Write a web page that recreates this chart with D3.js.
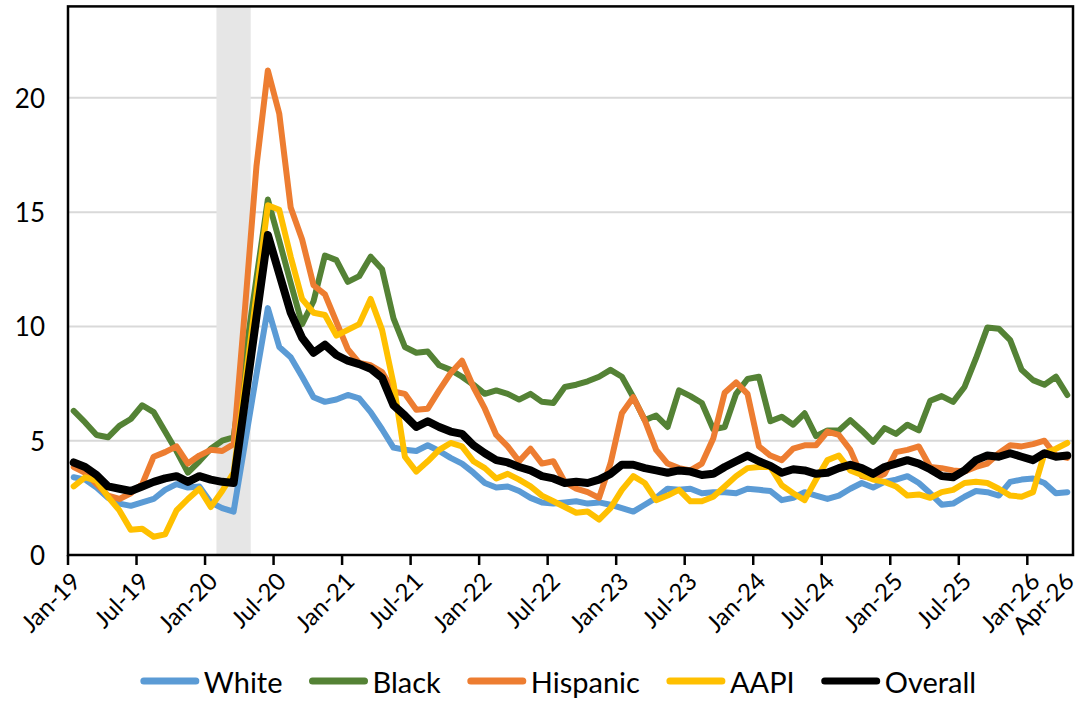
<!DOCTYPE html>
<html>
<head>
<meta charset="utf-8">
<script src="https://cdn.jsdelivr.net/npm/d3@7"></script>
<style>
  body { margin: 0; background: #fff; }
  svg { display: block; }
  text { font-family: Lato, "Open Sans", sans-serif; fill: #000; }
</style>
</head>
<body>
<svg id="chart" width="1078" height="724"></svg>
<script>
// Monthly unemployment rate (%) by group, Jan 2019 – Apr 2026
const monthStart = new Date(2019, 0, 1);
const monthEnd = new Date(2026, 4, 1); // exclusive
const months = d3.timeMonth.range(monthStart, monthEnd);

const white = [3.4,3.3,2.95,2.5,2.25,2.15,2.3,2.45,2.85,3.1,2.95,3.0,2.3,2.05,1.9,4.9,7.9,10.8,
  9.1,8.65,7.8,6.9,6.7,6.8,7.0,6.85,6.25,5.5,4.7,4.6,4.55,4.8,4.55,4.25,4.0,3.6,
  3.15,2.95,3.0,2.8,2.5,2.3,2.25,2.3,2.35,2.25,2.3,2.2,2.05,1.9,2.2,2.5,2.9,2.85,
  2.9,2.7,2.75,2.75,2.7,2.9,2.85,2.8,2.4,2.5,2.75,2.6,2.45,2.6,2.9,3.15,2.95,3.2,
  3.3,3.45,3.15,2.7,2.2,2.25,2.55,2.8,2.75,2.6,3.2,3.3,3.35,3.15,2.7,2.75];

const black = [6.3,5.8,5.25,5.15,5.65,5.95,6.55,6.25,5.4,4.55,3.6,4.1,4.65,5.0,5.15,8.6,12.1,15.55,
  13.75,11.9,10.1,11.1,13.1,12.9,11.95,12.2,13.05,12.5,10.35,9.1,8.85,8.9,8.3,8.1,7.8,7.45,
  7.05,7.2,7.05,6.8,7.05,6.7,6.65,7.35,7.45,7.6,7.8,8.1,7.8,6.9,5.9,6.1,5.6,7.2,
  6.95,6.65,5.5,5.6,7.05,7.7,7.8,5.85,6.05,5.7,6.2,5.2,5.45,5.45,5.9,5.45,4.95,5.55,
  5.3,5.7,5.45,6.75,6.95,6.7,7.35,8.6,9.95,9.9,9.4,8.1,7.65,7.45,7.8,7.0];

const hispanic = [3.85,3.6,3.1,2.6,2.45,2.7,3.1,4.3,4.5,4.75,4.0,4.35,4.6,4.55,4.85,10.8,17.0,21.2,
  19.3,15.2,13.8,11.8,11.4,10.2,9.0,8.4,8.3,8.0,7.15,7.05,6.35,6.4,7.2,7.95,8.5,7.35,
  6.4,5.25,4.75,4.1,4.65,4.0,4.1,3.2,2.9,2.75,2.5,4.0,6.2,6.9,5.9,4.6,4.0,3.8,
  3.7,4.0,5.1,7.1,7.55,7.05,4.75,4.35,4.15,4.65,4.8,4.8,5.4,5.25,4.6,3.45,3.35,3.55,
  4.5,4.6,4.75,3.85,3.8,3.7,3.65,3.85,4.0,4.45,4.8,4.75,4.85,5.0,4.35,4.25];

const aapi = [3.0,3.4,3.25,2.55,1.95,1.1,1.15,0.8,0.9,1.95,2.45,2.9,2.1,2.8,3.6,7.5,11.4,15.3,
  15.1,13.05,11.2,10.6,10.5,9.6,9.85,10.1,11.2,9.85,7.5,4.3,3.65,4.1,4.6,4.9,4.75,4.1,
  3.8,3.35,3.55,3.3,3.0,2.6,2.35,2.1,1.85,1.9,1.55,2.05,2.85,3.45,3.15,2.4,2.6,2.85,
  2.35,2.35,2.55,3.0,3.45,3.8,3.85,3.85,3.05,2.7,2.4,3.3,4.15,4.35,3.7,3.5,3.3,3.2,
  3.0,2.6,2.65,2.5,2.75,2.85,3.15,3.2,3.15,2.9,2.6,2.55,2.75,4.45,4.65,4.9];

const overall = [4.05,3.85,3.5,3.0,2.9,2.8,3.0,3.2,3.35,3.45,3.2,3.45,3.3,3.2,3.15,6.75,10.4,14.0,
  12.3,10.6,9.5,8.85,9.2,8.75,8.5,8.35,8.15,7.75,6.55,6.1,5.6,5.85,5.6,5.4,5.3,4.8,
  4.45,4.15,4.05,3.85,3.7,3.45,3.35,3.15,3.2,3.15,3.3,3.55,3.95,3.95,3.8,3.7,3.6,3.7,
  3.65,3.5,3.55,3.85,4.1,4.35,4.1,3.9,3.6,3.75,3.7,3.55,3.6,3.8,3.95,3.8,3.55,3.85,
  4.0,4.15,4.0,3.75,3.45,3.4,3.7,4.15,4.35,4.3,4.45,4.3,4.15,4.45,4.3,4.35];

const seriesNames = ["White", "Black", "Hispanic", "AAPI", "Overall"];
const seriesValues = [white, black, hispanic, aapi, overall];
const seriesColors = ["#5B9BD5", "#548235", "#ED7D31", "#FFC000", "#000000"];
const seriesWidths = [6, 6, 6, 6, 8];

const yTicks = [0, 5, 10, 15, 20];
const xTickLabels = ["Jan-19","Jul-19","Jan-20","Jul-20","Jan-21","Jul-21","Jan-22","Jul-22",
  "Jan-23","Jul-23","Jan-24","Jul-24","Jan-25","Jul-25","Jan-26","Apr-26"];
const xLabelsWithoutTick = ["Apr-26"];

// Recession shading (first and last shaded month)
const recession = ["Feb-20", "Apr-20"];

const fmt = d3.timeFormat("%b-%y");
const cats = months.map(fmt);

const plot = { left: 68, right: 1073, top: 6.4, bottom: 555 };

const x = d3.scaleBand().domain(cats).range([plot.left, plot.right]).paddingInner(0).paddingOuter(0);
const y = d3.scaleLinear().domain([0, 24]).range([plot.bottom, plot.top]);
const cx = c => x(c) + x.bandwidth() / 2;

const svg = d3.select("#chart");

// Gridlines
svg.append("g").selectAll("line").data(yTicks.filter(t => t > 0)).join("line")
  .attr("x1", plot.left).attr("x2", plot.right)
  .attr("y1", d => y(d)).attr("y2", d => y(d))
  .attr("stroke", "#D9D9D9").attr("stroke-width", 2);

// Recession band
svg.append("rect")
  .attr("x", x(recession[0]))
  .attr("width", x(recession[1]) + x.bandwidth() - x(recession[0]))
  .attr("y", plot.top).attr("height", plot.bottom - plot.top)
  .attr("fill", "#E6E6E6");

// Series lines
const line = d3.line().x((d, i) => cx(cats[i])).y(d => y(d));
svg.append("g").selectAll("path").data(seriesValues).join("path")
  .attr("d", d => line(d))
  .attr("fill", "none")
  .attr("stroke", (d, i) => seriesColors[i])
  .attr("stroke-width", (d, i) => seriesWidths[i])
  .attr("stroke-linejoin", "round")
  .attr("stroke-linecap", "round");

// Plot frame
svg.append("rect")
  .attr("x", plot.left).attr("y", plot.top)
  .attr("width", plot.right - plot.left).attr("height", plot.bottom - plot.top)
  .attr("fill", "none").attr("stroke", "#000").attr("stroke-width", 2.5);

// Y axis labels
svg.append("g").selectAll("text").data(yTicks).join("text")
  .attr("x", 45).attr("y", d => y(d))
  .attr("text-anchor", "end").attr("dominant-baseline", "central")
  .attr("font-size", 26)
  .text(d => d);

// X axis tick marks and labels
const xg = svg.append("g");
xg.selectAll("line").data(xTickLabels.filter(l => !xLabelsWithoutTick.includes(l))).join("line")
  .attr("x1", d => x(d)).attr("x2", d => x(d))
  .attr("y1", plot.bottom).attr("y2", plot.bottom + 10)
  .attr("stroke", "#000").attr("stroke-width", 2.5);
xg.selectAll("text").data(xTickLabels).join("text")
  .attr("transform", d => `translate(${x(d) + 14},${plot.bottom + 28}) rotate(-45)`)
  .attr("text-anchor", "end")
  .attr("font-size", 24)
  .text(d => d);

// Legend
const legendY = 681;
const lg = svg.append("g");
const items = lg.selectAll("g").data(seriesNames).join("g");
items.append("line")
  .attr("x1", 0).attr("x2", 52).attr("y1", 0).attr("y2", 0)
  .attr("stroke", (d, i) => seriesColors[i])
  .attr("stroke-width", 7).attr("stroke-linecap", "round");
items.append("text")
  .attr("x", 60).attr("y", 0).attr("dominant-baseline", "central")
  .attr("font-size", 29)
  .text(d => d);
let pos = 0;
const gap = 30;
items.each(function () {
  const w = 60 + this.querySelector("text").getComputedTextLength();
  d3.select(this).attr("transform", `translate(${pos},${legendY})`);
  pos += w + gap;
});
const total = pos - gap;
lg.attr("transform", `translate(${560 - total / 2},0)`);
</script>
</body>
</html>
